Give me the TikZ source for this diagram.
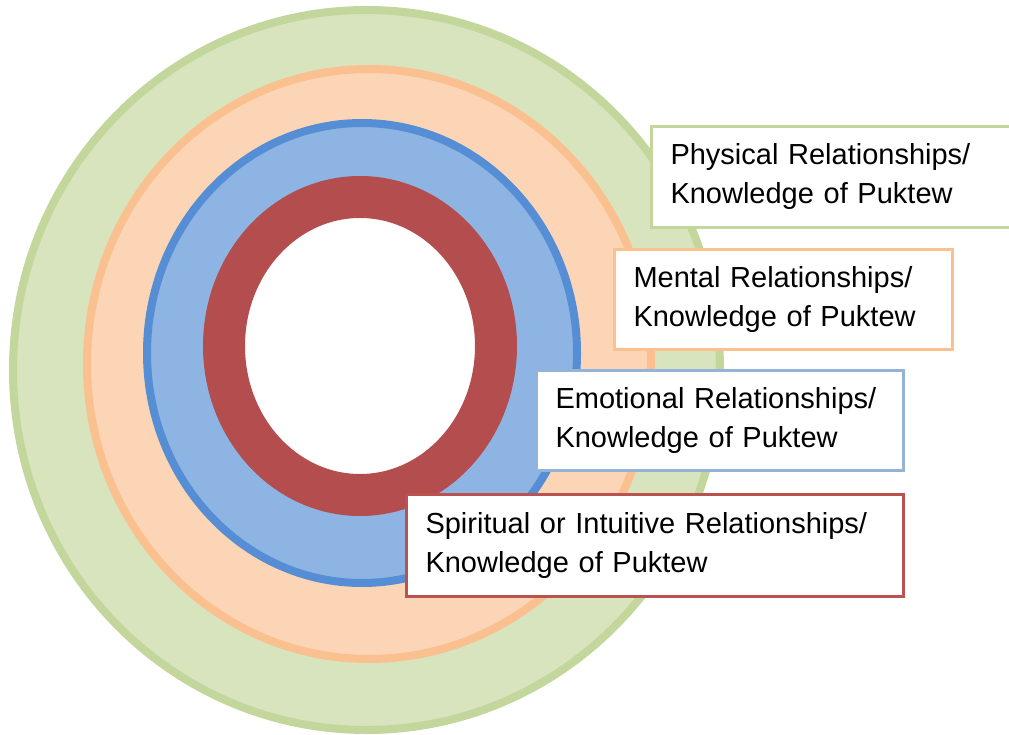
\documentclass[tikz,border=0pt]{standalone}
\usepackage{fontspec}
\setmainfont{Liberation Sans}
\usetikzlibrary{shapes.geometric}
\definecolor{greenF}{HTML}{D7E4BD}
\definecolor{greenS}{HTML}{C3D69B}
\definecolor{orangeF}{HTML}{FBD5B5}
\definecolor{orangeS}{HTML}{FAC090}
\definecolor{blueF}{HTML}{8EB4E3}
\definecolor{blueS}{HTML}{558ED5}
\definecolor{redR}{HTML}{B44E4E}
\definecolor{blueB}{HTML}{95B3D7}
\definecolor{redB}{HTML}{BA5250}
\begin{document}
\begin{tikzpicture}[x=1pt,y=-1pt,
  ring/.style={ellipse, inner sep=0pt, outer sep=0pt},
  labelbox/.style={draw, fill=white, line width=3.5pt, inner xsep=19pt, inner ysep=0pt,
    align=left, font=\fontsize{29}{39}\selectfont, anchor=center}]
\useasboundingbox (0,0) rectangle (1009,735);
\clip (0,0) rectangle (1009,735);
\node[ring, draw=greenS, fill=greenF, line width=8pt, minimum width=707pt, minimum height=720pt] (physring) at (366.5,370) {};
\node[ring, draw=orangeS, fill=orangeF, line width=8pt, minimum width=564pt, minimum height=590pt] (mentring) at (369,364) {};
\node[ring, draw=blueS, fill=blueF, line width=8pt, minimum width=430pt, minimum height=460pt] (emoring) at (362,353) {};
\node[ring, draw=redR, fill=white, line width=42pt, minimum width=272pt, minimum height=298pt] (spiring) at (360,346) {};
\node[labelbox, draw=greenS, minimum width=368.5pt, minimum height=101pt, text width=330.5pt] (physbox) at (835.75,177) {Physical Relationships/\\Knowledge of Puktew};
\node[labelbox, draw=orangeS, minimum width=338pt, minimum height=100pt, text width=300pt] (mentbox) at (783.5,299.5) {Mental Relationships/\\Knowledge of Puktew};
\node[labelbox, draw=blueB, minimum width=367pt, minimum height=100pt, text width=329pt] (emobox) at (720,420.5) {Emotional Relationships/\\Knowledge of Puktew};
\node[labelbox, draw=redB, minimum width=497pt, minimum height=102pt, text width=459pt] (spibox) at (655,545.5) {Spiritual or Intuitive Relationships/\\Knowledge of Puktew};
\end{tikzpicture}
\end{document}
